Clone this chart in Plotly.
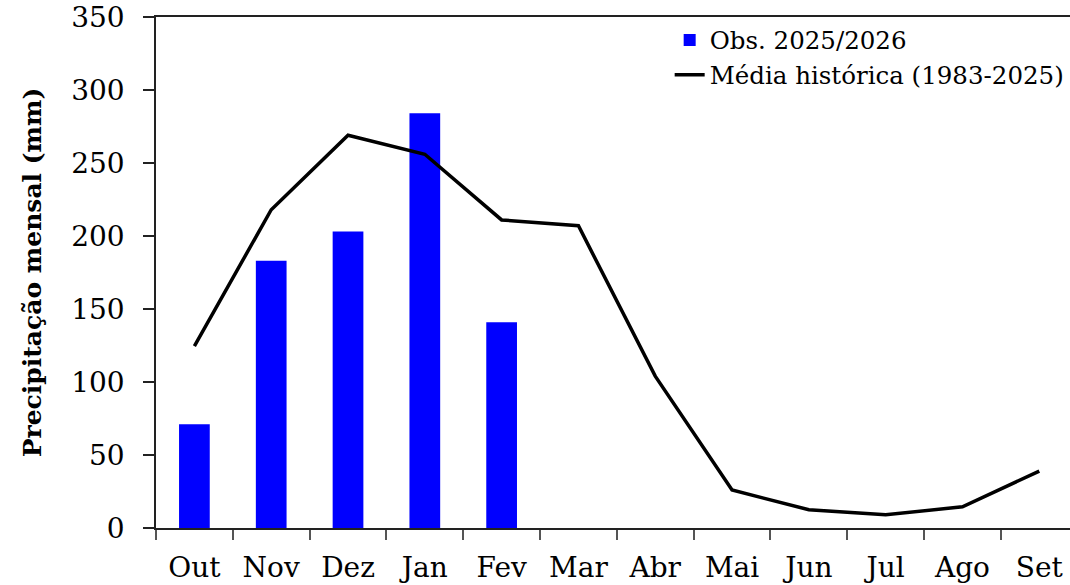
import plotly.graph_objects as go

months = ["Out", "Nov", "Dez", "Jan", "Fev", "Mar", "Abr", "Mai", "Jun", "Jul", "Ago", "Set"]
obs_months = ["Out", "Nov", "Dez", "Jan", "Fev"]
obs_values = [71, 183, 203, 284, 141]
hist_values = [124.5, 218, 269, 256, 211, 207, 104, 26, 12.5, 9, 14.5, 39]
y_ticks = [0, 50, 100, 150, 200, 250, 300, 350]

FONT = "DejaVu Serif"

fig = go.Figure()
fig.add_trace(go.Bar(
    x=obs_months, y=obs_values, name="Obs. 2025/2026",
    marker=dict(color="#0000FF", line=dict(width=0)), width=0.4,
))
fig.add_trace(go.Scatter(
    x=months, y=hist_values, name="Média histórica (1983-2025)",
    mode="lines", line=dict(color="black", width=3.5),
))

fig.update_layout(
    width=1070, height=585,
    margin=dict(l=156, r=0, t=17, b=57, autoexpand=False),
    paper_bgcolor="white", plot_bgcolor="white",
    font=dict(family=FONT, color="black"),
    showlegend=True,
    legend=dict(
        x=0.562, y=0.999, xanchor="left", yanchor="top",
        font=dict(family=FONT, size=24.5, color="black"),
        bgcolor="rgba(0,0,0,0)", tracegroupgap=0,
    ),
    xaxis=dict(
        type="category", categoryorder="array", categoryarray=months,
        range=[-0.5, 11.4], tickson="boundaries", automargin=False,
        ticks="outside", ticklen=10, tickcolor="#555", tickwidth=1.5,
        showline=True, linecolor="#222", linewidth=1.5, mirror=True,
        showgrid=False, tickfont=dict(family=FONT, size=28, color="black"),
        ticklabelstandoff=14,
    ),
    yaxis=dict(
        range=[0, 350], tickvals=y_ticks, automargin=False,
        ticks="outside", ticklen=11, tickcolor="#222", tickwidth=1.5,
        showline=True, linecolor="#222", linewidth=1.5,
        showgrid=False, zeroline=False,
        tickfont=dict(family=FONT, size=28, color="black"),
        ticklabelstandoff=13,
        title=dict(text="<b>Precipitação mensal (mm)</b>",
                   font=dict(family=FONT, size=25, color="black"), standoff=22),
    ),
)

fig.write_html(
    "out.html",
    config={"displayModeBar": False},
    post_script="document.body.style.margin='0';document.body.style.overflow='hidden';",
)
